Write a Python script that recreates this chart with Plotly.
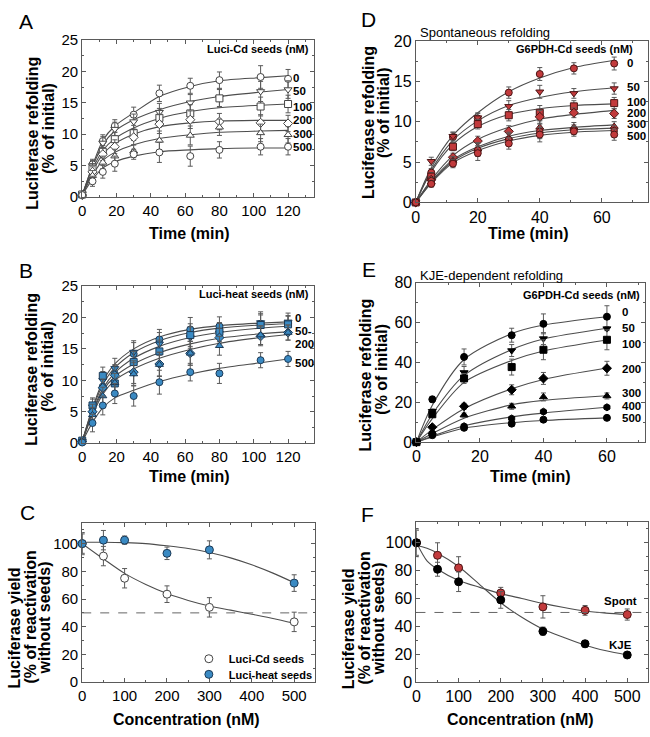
import plotly.graph_objects as go

W, H = 650, 737
FONT = "Liberation Sans, Arial, sans-serif"
INK = "#5a5a5a"
CURVE = "#4d4d4d"

# ---------------- data ----------------
# A: Luci-Cd seeds (open markers)
A_T = [0, 6, 12, 19, 30, 45, 63, 80, 104, 120]
A_SEEDS = ["0", "50", "100", "200", "300", "500"]
A_Y = [
    [0.4, 5.2, 8.9, 11.3, 13.1, 16.5, 17.7, 18.6, 19.1, 18.8],
    [0.5, 5.0, 8.6, 10.8, 12.0, 13.5, 15.0, 15.8, 16.8, 17.1],
    [0.4, 4.5, 7.2, 9.2, 10.2, 12.6, 13.3, 15.7, 14.4, 14.8],
    [0.3, 4.0, 6.8, 8.0, 9.5, 11.6, 12.3, 12.0, 11.8, 11.7],
    [0.3, 3.4, 5.5, 6.5, 7.3, 9.0, 9.8, 11.1, 10.2, 9.9],
    [0.3, 2.5, 4.0, 5.3, 6.8, 7.1, 6.5, 7.5, 8.0, 8.0],
]
A_ERR = [
    [0.3, 0.8, 1.0, 1.0, 1.2, 1.3, 1.2, 1.3, 1.8, 1.5],
    [0.3, 0.8, 1.0, 1.1, 1.2, 1.4, 1.3, 1.4, 1.6, 1.4],
    [0.3, 0.8, 1.0, 1.1, 1.2, 1.5, 1.4, 1.4, 1.5, 1.4],
    [0.3, 0.8, 1.0, 1.1, 1.2, 1.5, 1.4, 1.3, 1.3, 1.3],
    [0.3, 0.8, 1.0, 1.1, 1.0, 1.5, 1.5, 1.3, 1.4, 1.3],
    [0.3, 0.8, 1.0, 1.2, 0.8, 1.6, 1.6, 1.3, 1.3, 1.3],
]
A_FIT = [
    [0.3, 5.0, 9.0, 11.3, 13.4, 16.0, 17.6, 18.5, 19.0, 19.3],
    [0.3, 4.8, 8.3, 10.5, 12.3, 13.9, 15.2, 16.0, 16.7, 17.1],
    [0.3, 4.4, 7.4, 9.3, 11.0, 12.5, 13.6, 14.2, 14.6, 14.8],
    [0.3, 4.0, 6.8, 8.5, 10.0, 11.2, 11.8, 12.1, 12.2, 12.2],
    [0.3, 3.5, 5.8, 7.1, 8.3, 9.3, 9.9, 10.3, 10.5, 10.6],
    [0.3, 2.8, 4.6, 5.6, 6.5, 7.2, 7.5, 7.7, 7.8, 7.8],
]

# B: Luci-heat seeds
B_T = [0, 6, 12, 19, 30, 45, 63, 80, 104, 120]
B_SEEDS = ["0", "50", "100", "200", "300", "500"]
B_Y = [
    [0.2, 5.0, 9.0, 11.0, 14.2, 16.5, 18.1, 18.6, 19.0, 19.0],
    [0.3, 5.8, 10.0, 11.9, 14.5, 15.8, 16.8, 17.5, 19.2, 19.3],
    [0.4, 6.0, 10.7, 9.5, 12.9, 14.6, 17.2, 17.7, 18.8, 18.9],
    [0.3, 5.0, 8.8, 10.8, 11.3, 12.6, 14.3, 16.8, 17.0, 17.6],
    [0.2, 4.5, 7.5, 9.6, 11.0, 12.5, 14.3, 15.5, 17.2, 17.6],
    [0.1, 3.2, 6.0, 7.9, 7.5, 9.7, 11.3, 11.1, 13.2, 13.4],
]
B_ERR = [
    [0.5, 1.2, 1.4, 1.5, 1.8, 1.6, 1.9, 1.5, 1.6, 1.3],
    [0.5, 1.2, 1.4, 1.6, 1.8, 1.8, 1.7, 1.6, 1.7, 1.4],
    [0.5, 1.2, 1.4, 1.5, 1.7, 1.8, 1.8, 1.5, 1.6, 1.3],
    [0.5, 1.2, 1.4, 1.5, 1.8, 1.9, 1.9, 1.5, 1.5, 1.2],
    [0.5, 1.2, 1.4, 1.5, 1.8, 1.9, 1.9, 1.5, 1.5, 1.2],
    [0.5, 1.4, 1.5, 1.6, 1.6, 1.9, 1.4, 1.6, 1.2, 1.2],
]
B_FIT = [
    [0.3, 5.6, 9.8, 12.6, 15.0, 16.9, 18.1, 18.7, 19.1, 19.3],
    [0.3, 5.4, 9.3, 12.0, 14.4, 16.3, 17.6, 18.3, 18.8, 19.0],
    [0.3, 5.0, 8.7, 11.2, 13.5, 15.4, 16.8, 17.6, 18.3, 18.6],
    [0.3, 4.8, 8.3, 10.6, 12.6, 14.4, 15.8, 16.7, 17.4, 17.7],
    [0.3, 4.5, 7.8, 10.0, 11.8, 13.5, 14.9, 15.9, 16.8, 17.3],
    [0.2, 3.3, 5.6, 7.2, 8.4, 9.8, 11.0, 11.9, 12.8, 13.4],
]

# D: G6PDH-Cd seeds, spontaneous refolding
D_T = [0, 5, 12, 20, 30, 40, 51, 64]
D_SEEDS = ["0", "50", "100", "200", "300", "400", "500"]
D_Y = [
    [0, 3.7, 8.1, 10.4, 13.6, 15.9, 16.6, 17.2],
    [0, 5.1, 8.2, 10.5, 11.9, 13.7, 13.5, 14.1],
    [0, 3.2, 6.9, 9.7, 10.8, 11.1, 11.9, 12.3],
    [0, 2.8, 5.6, 7.6, 8.8, 10.6, 11.1, 11.0],
    [0, 2.5, 5.2, 6.6, 8.0, 9.3, 9.3, 9.4],
    [0, 2.7, 5.0, 6.5, 7.8, 8.8, 9.0, 8.9],
    [0, 2.3, 4.8, 6.1, 7.3, 8.4, 8.8, 8.4],
]
D_ERR = [
    [0.2, 0.5, 0.6, 0.6, 0.7, 0.8, 0.7, 0.8],
    [0.2, 0.5, 0.5, 0.6, 0.7, 0.8, 0.6, 0.7],
    [0.2, 0.5, 0.5, 0.6, 0.7, 0.9, 0.7, 0.7],
    [0.2, 0.4, 0.5, 0.6, 0.7, 0.8, 0.6, 0.6],
    [0.2, 0.4, 0.5, 0.8, 0.7, 0.8, 0.6, 0.6],
    [0.2, 0.4, 0.5, 0.8, 0.7, 0.9, 0.6, 0.6],
    [0.2, 0.4, 0.5, 0.9, 0.7, 0.9, 0.6, 0.7],
]
D_FIT = [
    [0, 4.3, 8.3, 11.1, 13.7, 15.4, 16.7, 17.6],
    [0, 4.0, 7.7, 10.1, 12.0, 13.0, 13.7, 14.2],
    [0, 3.8, 7.2, 9.4, 10.9, 11.6, 12.0, 12.2],
    [0, 2.8, 5.8, 7.8, 9.3, 10.3, 10.9, 11.4],
    [0, 2.6, 5.3, 6.9, 8.2, 8.9, 9.3, 9.6],
    [0, 2.5, 5.1, 6.7, 7.9, 8.6, 9.0, 9.2],
    [0, 2.4, 4.9, 6.4, 7.6, 8.3, 8.7, 8.9],
]

# E: G6PDH-Cd seeds, KJE-dependent refolding
E_T = [0, 5, 15, 30, 40, 60]
E_SEEDS = ["0", "50", "100", "200", "300", "400", "500"]
E_Y = [
    [0, 21.5, 42.8, 53.7, 59.4, 63.0],
    [0, 15.5, 35.0, 46.0, 52.0, 57.0],
    [0, 14.0, 32.0, 37.7, 46.4, 51.4],
    [0, 7.5, 18.0, 26.3, 32.0, 37.1],
    [0, 5.0, 13.6, 18.0, 22.7, 23.2],
    [0, 4.5, 8.0, 11.9, 15.3, 17.5],
    [0, 3.5, 7.2, 9.3, 11.3, 12.2],
]
E_ERR = [
    [0.5, 1.5, 4.0, 3.5, 5.0, 5.5],
    [0.5, 1.2, 3.0, 3.0, 3.0, 1.0],
    [0.5, 1.5, 2.5, 4.0, 5.0, 5.0],
    [0.3, 1.0, 1.5, 2.5, 3.0, 3.5],
    [0.3, 1.0, 1.0, 1.5, 2.0, 1.5],
    [0.3, 0.8, 1.0, 1.0, 1.0, 1.0],
    [0.3, 0.5, 0.8, 1.0, 0.8, 0.7],
]
E_FIT = [
    [0, 18.5, 41.5, 54.5, 58.8, 63.0],
    [0, 14.0, 33.5, 46.5, 51.8, 57.2],
    [0, 11.8, 30.0, 41.0, 45.8, 51.3],
    [0, 6.3, 16.8, 26.8, 31.5, 37.2],
    [0, 4.3, 12.0, 18.8, 21.0, 23.3],
    [0, 3.0, 8.2, 12.7, 14.6, 17.5],
    [0, 2.6, 7.0, 9.8, 10.9, 12.2],
]

# C: yield vs seed concentration
C_X = [0, 50, 100, 200, 300, 500]
C_CD = [100, 91, 75, 63.5, 54, 43.5]
C_CD_ERR = [7, 7, 7, 6, 7, 7]
C_HEAT = [100, 102.5, 102.5, 93, 95.5, 71.5]
C_HEAT_ERR = [8, 7, 3, 4.5, 6.5, 6]
C_FIT_X = [0, 50, 100, 150, 200, 250, 300, 350, 400, 450, 500]
C_CD_FIT = [100, 89, 78.5, 70.5, 64, 59, 55, 52, 49, 46, 42.5]
C_HEAT_FIT = [101, 101, 100.7, 100, 98.4, 96.5, 93.6, 89.7, 84.7, 78.7, 71.8]

# F: yield vs G6PDH-Cd seed concentration
F_X = [0, 50, 100, 200, 300, 400, 500]
F_SPONT = [100, 91, 82, 64, 54, 51.5, 48.5]
F_SPONT_ERR = [9, 9, 8, 4, 8, 3.5, 4]
F_KJE = [100, 81, 72, 59, 36.5, 27.5, 19.5]
F_KJE_ERR = [10, 5, 7, 6, 3, 2.5, 1]
F_FIT_X = [0, 25, 50, 100, 150, 200, 250, 300, 350, 400, 450, 500]
F_SPONT_FIT = [100, 87, 81, 73, 68, 63.5, 60, 56.5, 53.5, 51, 49.5, 48.5]
F_KJE_FIT = [98, 96, 92.5, 83, 70, 57, 46.5, 38, 32, 26.5, 22.5, 19.5]

HALF = 50

SYM6 = ["circle", "triangle-down", "square", "diamond", "triangle-up", "circle"]
SYM7 = ["circle", "triangle-down", "square", "diamond", "triangle-up", "hexagon", "circle"]

BLUE = "#3a8ac3"
BLUE_EDGE = "#1d3a56"
RED = "#c23a3c"
RED_EDGE = "#4a1414"


def px_x(x):
    return x / W


def px_y(y):
    return 1 - y / H


# panel geometry in pixels: (left, right, top, bottom)
PANELS = {
    1: dict(box=(78.7, 311.7, 31.7, 192.7), xr=[0, 135], xd=20, xm=10, yr=[0, 25], yd=5, ym=2.5, fs=15),   # A
    2: dict(box=(414.3, 648.3, 32.7, 198.3), xr=[0, 75], xd=20, xm=10, yr=[0, 20], yd=5, ym=2.5, fs=16),   # D
    3: dict(box=(78.7, 311.7, 284, 445), xr=[0, 135], xd=20, xm=10, yr=[0, 25], yd=5, ym=2.5, fs=15),      # B
    4: dict(box=(415, 645, 280.7, 444), xr=[0, 72], xd=20, xm=10, yr=[0, 80], yd=20, ym=10, fs=16),        # E
    5: dict(box=(78.7, 313.3, 526.7, 690), xr=[0, 550], xd=100, xm=50, yr=[0, 115], yd=20, ym=10, fs=15),  # C
    6: dict(box=(415, 648.3, 525.7, 690), xr=[0, 550], xd=100, xm=50, yr=[0, 115], yd=20, ym=10, fs=16),   # F
}

fig = go.Figure()
layout = {}
for i, p in PANELS.items():
    l, r, t, b = p["box"]
    sfx = "" if i == 1 else str(i)
    common = dict(
        showline=True, linecolor=INK, linewidth=1, mirror="ticks",
        ticks="inside", ticklen=4, tickcolor=INK, tickwidth=1,
        showgrid=False, zeroline=False, tick0=0,
        tickfont=dict(size=p["fs"], color="black", family=FONT),
        fixedrange=True,
    )
    layout["xaxis" + sfx] = dict(
        domain=[px_x(l), px_x(r)], range=p["xr"], dtick=p["xd"], anchor="y" + sfx,
        minor=dict(dtick=p["xm"], ticks="inside", ticklen=2, tickcolor=INK),
        **common,
    )
    layout["yaxis" + sfx] = dict(
        domain=[px_y(b), px_y(t)], range=p["yr"], dtick=p["yd"], anchor="x" + sfx,
        minor=dict(dtick=p["ym"], ticks="inside", ticklen=2, tickcolor=INK),
        **common,
    )


def axes(i):
    s = "" if i == 1 else str(i)
    return "x" + s, "y" + s


def add_kinetics(i, t, ys, errs, fits, symbols, fill, edge, size=7):
    xa, ya = axes(i)
    for f in fits:
        fig.add_trace(go.Scatter(
            x=t, y=f, mode="lines", xaxis=xa, yaxis=ya, showlegend=False,
            line=dict(color=CURVE, width=1.1, shape="spline", smoothing=0.8),
            hoverinfo="skip"))
    for y, e, s in zip(ys, errs, symbols):
        fig.add_trace(go.Scatter(
            x=t, y=y, mode="markers", xaxis=xa, yaxis=ya, showlegend=False,
            cliponaxis=False,
            marker=dict(symbol=s, size=size, color=fill, line=dict(color=edge, width=1)),
            error_y=dict(type="data", array=e, color=INK, thickness=1, width=2.5)))


add_kinetics(1, A_T, A_Y, A_ERR, A_FIT, SYM6, "white", "#444444")
add_kinetics(3, B_T, B_Y, B_ERR, B_FIT, SYM6, BLUE, BLUE_EDGE)
add_kinetics(2, D_T, D_Y, D_ERR, D_FIT, SYM7, RED, RED_EDGE)
add_kinetics(4, E_T, E_Y, E_ERR, E_FIT, SYM7, "black", "black")


def add_dose(i, fit_x, fits, x, series):
    xa, ya = axes(i)
    for f in fits:
        fig.add_trace(go.Scatter(
            x=fit_x, y=f, mode="lines", xaxis=xa, yaxis=ya, showlegend=False,
            line=dict(color=CURVE, width=1.1, shape="spline", smoothing=0.8),
            hoverinfo="skip"))
    for name, y, e, fill, edge, leg in series:
        fig.add_trace(go.Scatter(
            x=x, y=y, mode="markers", xaxis=xa, yaxis=ya, name=name,
            showlegend=leg is not None, legend=leg or "legend", cliponaxis=False,
            marker=dict(symbol="circle", size=8, color=fill, line=dict(color=edge, width=1)),
            error_y=dict(type="data", array=e, color=INK, thickness=1, width=2.5)))


add_dose(5, C_FIT_X, [C_CD_FIT, C_HEAT_FIT], C_X, [
    ("<b>Luci-Cd seeds</b>", C_CD, C_CD_ERR, "white", "#444444", "legend"),
    ("<b>Luci-heat seeds</b>", C_HEAT, C_HEAT_ERR, BLUE, BLUE_EDGE, "legend2"),
])
add_dose(6, F_FIT_X, [F_SPONT_FIT, F_KJE_FIT], F_X, [
    ("Spont", F_SPONT, F_SPONT_ERR, RED, RED_EDGE, None),
    ("KJE", F_KJE, F_KJE_ERR, "black", "black", None),
])

shapes = []
for i in (5, 6):
    xa, ya = axes(i)
    shapes.append(dict(type="line", xref=xa + " domain", yref=ya, x0=0, x1=1,
                       y0=HALF, y1=HALF, line=dict(color="#666666", width=1, dash="dash")))

ann = []


def paper_text(text, x, y, size, bold=False, xanchor="center", angle=0):
    ann.append(dict(
        text=f"<b>{text}</b>" if bold else text, x=px_x(x), y=px_y(y),
        xref="paper", yref="paper", xanchor=xanchor, yanchor="middle",
        showarrow=False, textangle=angle,
        font=dict(size=size, color="black", family=FONT)))


def data_text(i, text, x, y, size=11.5, xanchor="left"):
    xa, ya = axes(i)
    ann.append(dict(
        text=f"<b>{text}</b>", x=x, y=y, xref=xa, yref=ya,
        xanchor=xanchor, yanchor="middle", showarrow=False,
        font=dict(size=size, color="black", family=FONT)))


# panel letters
for letter, x, y in [("A", 22, 13), ("D", 367, 11), ("B", 22, 268),
                     ("E", 367, 267), ("C", 24, 516), ("F", 366, 518)]:
    paper_text(letter, x, y, 21)

# y axis titles (two or three lines each)
for lines in [
    [("Luciferase refolding", 29, 127), ("(% of initial)", 44, 122)],
    [("Luciferase refolding", 366, 116), ("(% of initial)", 382, 106)],
    [("Luciferase refolding", 28, 369), ("(% of initial)", 43, 366)],
    [("Luciferase refolding", 364, 375), ("(% of initial)", 380, 369)],
    [("Luciferase yield", 11, 634), ("(% of reactivation", 27, 623), ("without seeds)", 41, 624)],
    [("Luciferase yield", 347, 635), ("(% of reactivation", 363, 624), ("without seeds)", 377, 625)],
]:
    for txt, x, y in lines:
        paper_text(txt, x, y, 16, bold=True, angle=-90)

# x axis titles
for txt, x, y in [("Time (min)", 187, 230), ("Time (min)", 528, 230),
                  ("Time (min)", 187, 479), ("Time (min)", 530, 479),
                  ("Concentration (nM)", 184, 728), ("Concentration (nM)", 520, 728)]:
    paper_text(txt, x, y, 16, bold=True)

# panel headers / legend titles
paper_text("Spontaneous refolding", 417, 24, 13, xanchor="left")
paper_text("KJE-dependent refolding", 417, 273, 13, xanchor="left")
paper_text("Luci-Cd seeds (nM)", 309, 41, 11, bold=True, xanchor="right")
paper_text("Luci-heat seeds (nM)", 309, 292, 11, bold=True, xanchor="right")
paper_text("G6PDH-Cd seeds (nM)", 635, 41, 11, bold=True, xanchor="right")
paper_text("G6PDH-Cd seeds (nM)", 642, 293, 11, bold=True, xanchor="right")

# series labels next to the curves
for s, y in zip(A_SEEDS, [18.9, 16.8, 14.4, 12.3, 10.1, 7.9]):
    data_text(1, s, 122, y)
for s, y in zip(["0", "50-", "200", "500"], [19.9, 17.9, 15.7, 12.7]):
    data_text(3, s, 123, y)
for s, y in zip(["0", "50", "100", "200", "300", "500"], [17.3, 14.3, 12.4, 11.1, 9.7, 8.25]):
    data_text(2, s, 67.4, y)
for s, y in zip(E_SEEDS, [65.6, 57.5, 49.3, 36.6, 24.8, 18.3, 12.1]):
    data_text(4, s, 64, y)
data_text(6, "Spont", 483, 58.3, xanchor="center")
data_text(6, "KJE", 485, 26.8, xanchor="center")

legend_style = dict(
    xanchor="left", yanchor="middle", bgcolor="rgba(0,0,0,0)",
    font=dict(size=11, family=FONT, color="black"), itemwidth=30,
)

fig.update_layout(
    **layout,
    width=W, height=H,
    margin=dict(l=0, r=0, t=0, b=0),
    paper_bgcolor="white", plot_bgcolor="white",
    font=dict(family=FONT, color="black"),
    shapes=shapes, annotations=ann,
    showlegend=True,
    legend=dict(x=px_x(186), y=px_y(666), **legend_style),
    legend2=dict(x=px_x(186), y=px_y(682), **legend_style),
)

# the page's default 8px body margin would push the 650x737 figure off the window
fig.write_html("out.html", config={"displayModeBar": False},
               post_script="document.body.style.margin='0';")
